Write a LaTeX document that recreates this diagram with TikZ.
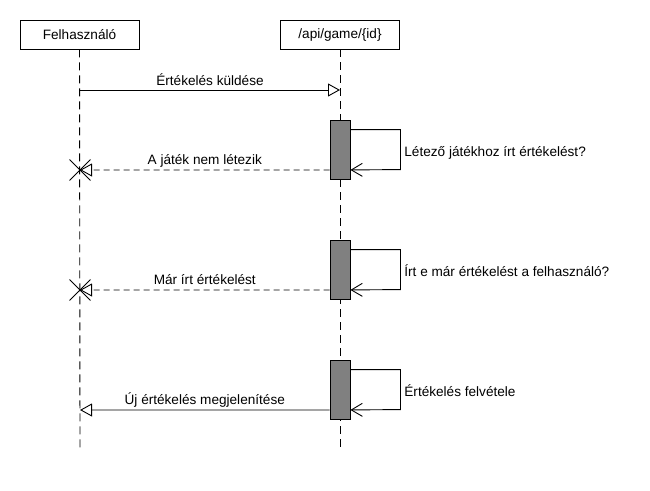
\documentclass[tikz,border=0pt]{standalone}
\usepackage{fontspec}
\setmainfont{Liberation Sans}
\usepackage{tikz}
\usetikzlibrary{arrows.meta,shapes.misc}

\begin{document}
\begin{tikzpicture}[x=1pt,y=-1pt,line width=0.9pt,
  >={Triangle[open,length=12pt,width=13pt]},
  font=\fontsize{13.6}{16}\selectfont]
  \tikzstyle{head}=[rectangle,draw,fill=white,minimum width=119pt,minimum height=29pt]
  \tikzstyle{lifeline}=[dash pattern=on 8pt off 5pt]
  \tikzstyle{activation}=[rectangle,draw,fill=black!50,minimum width=20pt,
  			  minimum height=59pt,inner sep=0pt]
  \tikzstyle{call}=[->]
  \tikzstyle{reply}=[->,dash pattern=on 6pt off 4pt]
  \tikzstyle{selfcall}=[-{Straight Barb[length=11pt,width=13pt]}]
  \tikzstyle{msg}=[anchor=base,yshift=5pt,inner sep=0pt]
  \tikzstyle{note}=[anchor=base west,yshift=-7pt,inner sep=3.5pt]
  \tikzstyle{kill}=[cross out,draw,minimum size=20pt,inner sep=0pt]
  \useasboundingbox (0,0) rectangle (650,490);
  % lifelines
  \node [head] (user) at (79.5,34.5) {Felhasználó};
  \node [head] (api) at (340,34.5) {/api/game/\{id\}};
  \coordinate (userend) at (80,448);
  \coordinate (apiend) at (340,450);
  \draw [lifeline] (user) -- (userend);
  \draw [lifeline] (api) -- (apiend);
  \coordinate (m1a) at (80,90);
  \coordinate (m1b) at (340,90);
  \draw [call] (m1a) -- node[msg] {Értékelés küldése} (m1b);
  \begin{scope}
    \node [activation] (act1) at (340,149.5) {};
    \draw [selfcall] ([yshift=-10pt]act1.north east) -- ++(50,0)
      -- node[note] {Létező játékhoz írt értékelést?} ++(0,40)
      -- ([yshift=9.5pt]act1.south east);
    \node [kill] (kill1) at (80,170) {};
    \draw [reply] ([yshift=9.5pt]act1.south west) -- node[msg] {A játék nem létezik} (kill1.center);
  \end{scope}
  \begin{scope}
    \node [activation] (act2) at (340,269.5) {};
    \draw [selfcall] ([yshift=-10pt]act2.north east) -- ++(50,0)
      -- node[note] {Írt e már értékelést a felhasználó?} ++(0,40)
      -- ([yshift=9.5pt]act2.south east);
    \node [kill] (kill2) at (80,290) {};
    \draw [reply] ([yshift=9.5pt]act2.south west) -- node[msg] {Már írt értékelést} (kill2.center);
  \end{scope}
  \begin{scope}
    \node [activation] (act3) at (340,389.5) {};
    \draw [selfcall] ([yshift=-10pt]act3.north east) -- ++(50,0)
      -- node[note] {Értékelés felvétele} ++(0,40)
      -- ([yshift=9.5pt]act3.south east);
    \coordinate (m3b) at (80,410);
    \draw [call] ([yshift=9.5pt]act3.south west) -- node[msg] {Új értékelés megjelenítése} (m3b);
  \end{scope}
\end{tikzpicture}
\end{document}
